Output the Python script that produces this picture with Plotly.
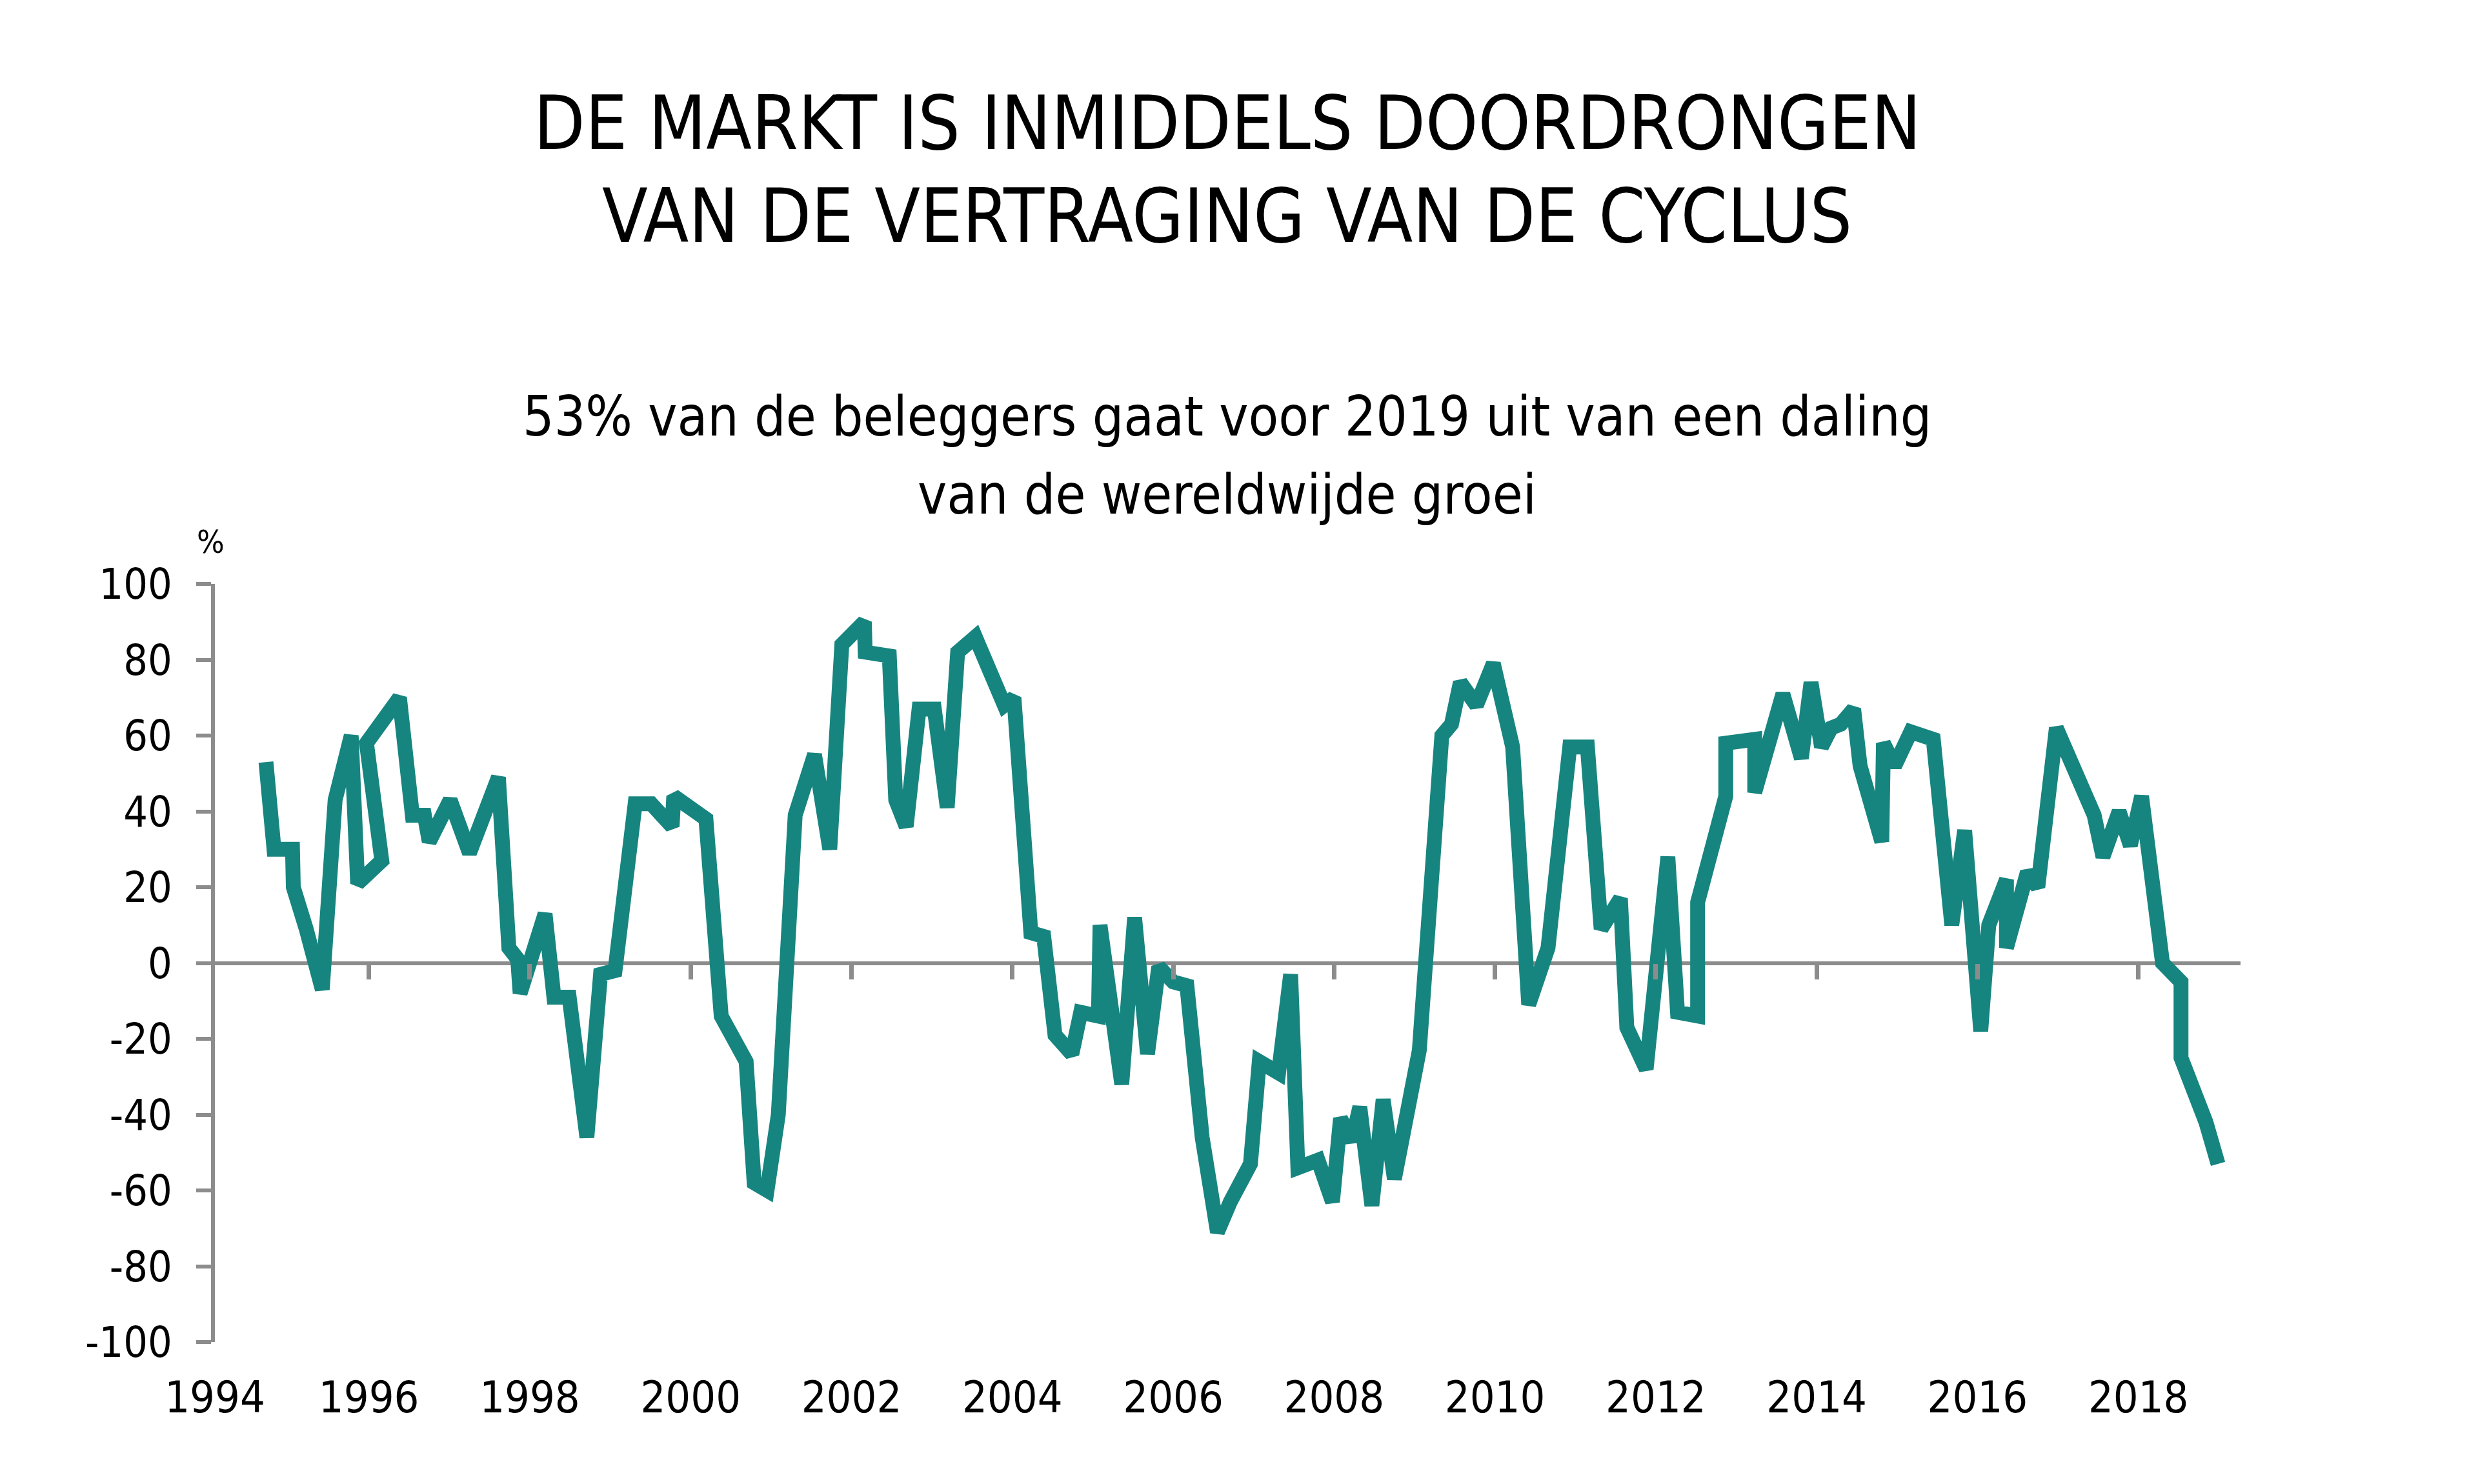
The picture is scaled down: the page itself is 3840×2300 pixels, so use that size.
import plotly.graph_objects as go

# ---- data ----
years = [
    1994.72, 1994.82, 1995.05, 1995.06, 1995.22, 1995.42, 1995.58, 1995.78, 1995.86, 1996.16,
    1995.97, 1996.38, 1996.54, 1996.69, 1996.75, 1997.01, 1997.25, 1997.61, 1997.74, 1997.85,
    1997.88, 1998.19, 1998.30, 1998.49, 1998.71, 1998.88, 1999.06, 1999.31, 1999.51, 1999.77,
    1999.79, 2000.19, 2000.38, 2000.69, 2000.79, 2000.95, 2001.09, 2001.30, 2001.54, 2001.73,
    2001.88, 2002.16, 2002.17, 2002.47, 2002.55, 2002.68, 2002.84, 2003.03, 2003.19, 2003.32,
    2003.54, 2003.90, 2004.02, 2004.23, 2004.39, 2004.53, 2004.74, 2004.85, 2005.07, 2005.09,
    2005.36, 2005.52, 2005.68, 2005.82, 2006.00, 2006.17, 2006.36, 2006.55, 2006.71, 2006.96,
    2007.07, 2007.31, 2007.46, 2007.55, 2007.80, 2007.98, 2008.08, 2008.22, 2008.32, 2008.47,
    2008.61, 2008.75, 2009.06, 2009.34, 2009.46, 2009.57, 2009.77, 2009.98, 2010.22, 2010.42,
    2010.66, 2010.93, 2011.15, 2011.32, 2011.56, 2011.64, 2011.88, 2012.15, 2012.27, 2012.52,
    2012.52, 2012.87, 2012.87, 2013.23, 2013.23, 2013.58, 2013.81, 2013.93, 2014.06, 2014.18,
    2014.30, 2014.46, 2014.54, 2014.81, 2014.83, 2014.97, 2015.17, 2015.45, 2015.68, 2015.84,
    2016.04, 2016.14, 2016.36, 2016.36, 2016.62, 2016.75, 2016.98, 2017.45, 2017.56, 2017.76,
    2017.90, 2018.04, 2018.30, 2018.53, 2018.53, 2018.84, 2018.99,
]
values = [
    53, 30, 30, 20, 9, -7, 43, 60, 21, 27,
    58, 70, 39, 39, 32, 43, 29, 49, 4, 1,
    -8, 13, -9, -9, -46, -3, -2, 42, 42, 36,
    44, 38, -14, -26, -58, -60, -40, 39, 55, 30,
    84, 90, 82, 81, 43, 36, 67, 67, 41, 82,
    86, 68, 70, 8, 7, -19, -24, -13, -14, 10,
    -32, 12, -24, -1, -5, -6, -46, -71, -63, -53,
    -26, -29, -3, -54, -52, -63, -41, -47, -38, -64,
    -36, -57, -23, 60, 63, 74, 68, 79, 57, -11,
    4, 57, 57, 9, 17, -17, -28, 28, -13, -14,
    16, 44, 58, 59, 45, 71, 54, 74, 57, 62,
    63, 67, 52, 32, 58, 52, 61, 59, 10, 35,
    -18, 10, 22, 4, 24, 20, 62, 39, 28, 40,
    31, 44, 0, -5, -25, -42, -53,
]
X_MIN, X_MAX = 1994.085, 2019.27          # axis starts just after 1 Jan 1994
x_tick_years = [X_MIN] + list(range(1996, 2019, 2))
x_tick_labels = ["1994"] + [str(y) for y in range(1996, 2019, 2)]
x_minor_ticks = list(range(1996, 2019, 2))
y_ticks = list(range(-100, 101, 20))
y_tick_labels = [str(v) for v in y_ticks]

title_lines = ["DE MARKT IS INMIDDELS DOORDRONGEN", "VAN DE VERTRAGING VAN DE CYCLUS"]
subtitle_lines = ["53% van de beleggers gaat voor 2019 uit van een daling", "van de wereldwijde groei"]

TEAL = "#17857f"
GRAY = "#8c8c8c"
FONT = "DejaVu Sans Condensed, Liberation Sans Narrow, sans-serif"
X_RANGE = [X_MIN, X_MAX]

fig = go.Figure()
fig.add_trace(go.Scatter(
    x=years, y=values, mode="lines",
    line=dict(color=TEAL, width=23),
    xaxis="x", yaxis="y", hoverinfo="skip", showlegend=False,
))
# invisible helpers so the overlay axes are drawn
for ax in ("x2", "x3"):
    fig.add_trace(go.Scatter(
        x=[years[0]], y=[values[0]], mode="markers",
        marker=dict(opacity=0, size=1), xaxis=ax, yaxis="y",
        hoverinfo="skip", showlegend=False,
    ))

fig.update_layout(
    width=3840, height=2300, autosize=False,
    margin=dict(l=325, r=376, t=897, b=228),
    paper_bgcolor="white", plot_bgcolor="white",
    font=dict(family=FONT, color="black"),
    showlegend=False,
    xaxis=dict(
        range=X_RANGE, showline=False, showgrid=False, zeroline=False,
        tickmode="array", tickvals=x_tick_years, ticktext=x_tick_labels,
        ticks="", tickfont=dict(size=68, family=FONT, color="black"),
        ticklabelstandoff=40,
    ),
    xaxis2=dict(
        range=X_RANGE, overlaying="x", anchor="free", position=0.5, side="bottom",
        showline=True, linecolor=GRAY, linewidth=6, showgrid=False, zeroline=False,
        ticks="", showticklabels=False, layer="below traces",
    ),
    xaxis3=dict(
        range=X_RANGE, overlaying="x", anchor="free", position=0.5, side="bottom",
        showline=False, showgrid=False, zeroline=False,
        tickmode="array", tickvals=x_minor_ticks,
        ticks="outside", ticklen=24, tickwidth=7, tickcolor=GRAY,
        showticklabels=False, layer="above traces",
    ),
    yaxis=dict(
        range=[-100, 100], showline=True, linecolor=GRAY, linewidth=6,
        showgrid=False, zeroline=False,
        tickmode="array", tickvals=y_ticks, ticktext=y_tick_labels,
        ticks="outside", ticklen=23, tickwidth=6, tickcolor=GRAY,
        tickfont=dict(size=66, family=FONT, color="black"),
        ticklabelstandoff=24,
    ),
)

annos = []
for txt, y in zip(title_lines, [1.6078, 1.4855]):
    annos.append(dict(text=txt, x=0.4997, y=y, xref="paper", yref="paper",
                      xanchor="center", yanchor="middle", showarrow=False,
                      font=dict(size=115, family=FONT, color="black")))
for txt, y in zip(subtitle_lines, [1.2212, 1.1178]):
    annos.append(dict(text=txt, x=0.4997, y=y, xref="paper", yref="paper",
                      xanchor="center", yanchor="middle", showarrow=False,
                      font=dict(size=85, family=FONT, color="black")))
annos.append(dict(text="%", x=-0.002, y=1.0553, xref="paper", yref="paper",
                  xanchor="center", yanchor="middle", showarrow=False,
                  font=dict(size=50, family=FONT, color="black")))
fig.update_layout(annotations=annos)

fig.write_html("out.html")
